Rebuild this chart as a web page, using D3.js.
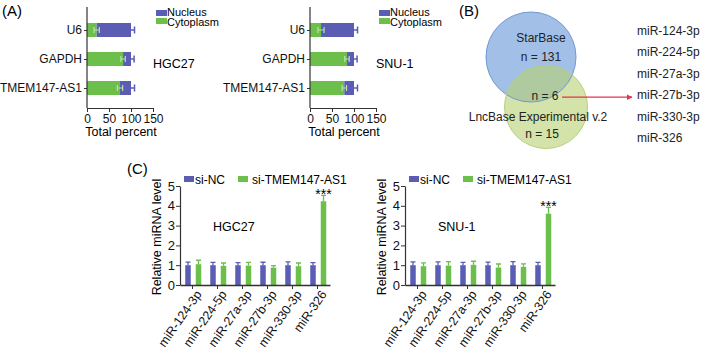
<!DOCTYPE html>
<html lang="en">
<head>
    <meta charset="UTF-8">
    <title>TMEM147-AS1 localisation and miRNA levels</title>
    <script src="https://d3js.org/d3.v7.min.js"></script>
    <style>
        body { margin: 0; padding: 0; background: #fff; }
        svg { display: block; font-family: "Liberation Sans", Arial, sans-serif; }
        .axis text { font-family: "Liberation Sans", Arial, sans-serif; fill: #111; }
        .axis path, .axis line { stroke: #333; }
    </style>
</head>
<body>
<script>
    // Panel A : subcellular fractions (percent)
    var genes = ["U6", "GAPDH", "TMEM147-AS1"];
    var hgcCyto = [22, 82, 75];
    var hgcCytoErr = [6, 5, 6];
    var hgcTotalErr = [8, 7, 8];
    var snuCyto = [25, 84, 78];
    var snuCytoErr = [7, 5, 5];
    var snuTotalErr = [8, 7, 8];
    var pctTicks = [0, 50, 100, 150];

    // Panel B : Venn + miRNA list
    var mirList = ["miR-124-3p", "miR-224-5p", "miR-27a-3p", "miR-27b-3p", "miR-330-3p", "miR-326"];

    // Panel C : relative miRNA level
    var mirs = ["miR-124-3p", "miR-224-5p", "miR-27a-3p", "miR-27b-3p", "miR-330-3p", "miR-326"];
    var hgcNC = [1, 1, 1, 1, 1, 1];
    var hgcNCErr = [0.16, 0.14, 0.13, 0.15, 0.17, 0.13];
    var hgcSi = [1.05, 0.97, 0.98, 0.88, 0.95, 4.23];
    var hgcSiErr = [0.2, 0.14, 0.16, 0.1, 0.16, 0.3];
    var snuNC = [1, 1, 1, 1, 1, 1];
    var snuNCErr = [0.17, 0.17, 0.14, 0.16, 0.18, 0.14];
    var snuSi = [0.95, 0.98, 1.02, 0.88, 0.92, 3.6];
    var snuSiErr = [0.17, 0.2, 0.18, 0.18, 0.15, 0.32];
    var levelTicks = [0, 1, 2, 3, 4, 5];

    var blue = "#5a5db3";
    var green = "#6cbf4a";

    var svg = d3.select("body").append("svg")
        .attr("width", 702)
        .attr("height", 349);

    // ---------- Panel A ----------
    function drawA(x0, cyto, cytoErr, totErr, cellName) {
        var g = svg.append("g");
        var x = d3.scaleLinear().domain([0, 150]).range([x0, x0 + 66]);
        var y = d3.scalePoint().domain(genes).range([30, 88]);
        var bh = 14;

        // bars : green cytoplasm then blue nucleus up to 100
        genes.forEach(function(name, i) {
            g.append("rect")
                .attr("x", x(0)).attr("y", y(name) - bh / 2)
                .attr("width", x(cyto[i]) - x(0)).attr("height", bh)
                .attr("fill", green);
            g.append("rect")
                .attr("x", x(cyto[i])).attr("y", y(name) - bh / 2)
                .attr("width", x(100) - x(cyto[i])).attr("height", bh)
                .attr("fill", blue);
            // error bar on cytoplasm
            var e1 = x(cyto[i] - cytoErr[i]), e2 = x(cyto[i] + cytoErr[i]);
            g.append("path")
                .attr("d", "M" + e1 + "," + y(name) + "H" + e2 +
                    "M" + e1 + "," + (y(name) - 3) + "V" + (y(name) + 3) +
                    "M" + e2 + "," + (y(name) - 3) + "V" + (y(name) + 3))
                .attr("stroke", "#b9e0a6").attr("stroke-width", 1.2).attr("fill", "none");
            // error bar on total
            var t2 = x(100 + totErr[i]);
            g.append("path")
                .attr("d", "M" + x(100) + "," + y(name) + "H" + t2 +
                    "M" + t2 + "," + (y(name) - 3.5) + "V" + (y(name) + 3.5))
                .attr("stroke", blue).attr("stroke-width", 1.5).attr("fill", "none");
        });

        // axes
        g.append("line")
            .attr("x1", x0).attr("x2", x0).attr("y1", 7).attr("y2", 108)
            .attr("stroke", "#333").attr("stroke-width", 1.2);
        var ya = g.append("g").attr("class", "axis")
            .attr("transform", "translate(" + x0 + ",0)")
            .call(d3.axisLeft(y).tickSize(3).tickPadding(2));
        ya.select(".domain").remove();
        ya.selectAll("text").style("font-size", "12px");

        var xa = g.append("g").attr("class", "axis")
            .attr("transform", "translate(0,108)")
            .call(d3.axisBottom(x).tickValues(pctTicks).tickFormat(d3.format("d"))
                .tickSize(4).tickSizeOuter(0).tickPadding(2));
        xa.selectAll("text").style("font-size", "12px");
        xa.select(".domain").attr("stroke-width", 1.2);

        g.append("text")
            .attr("x", x0 + 34).attr("y", 136)
            .attr("text-anchor", "middle")
            .style("font-size", "12.5px")
            .text("Total percent");

        // legend
        var lx = x0 + 69;
        g.append("rect").attr("x", lx).attr("y", 10).attr("width", 11).attr("height", 6).attr("fill", blue);
        g.append("rect").attr("x", lx).attr("y", 18).attr("width", 11).attr("height", 6).attr("fill", green);
        g.append("text").attr("x", lx + 11).attr("y", 15.5).style("font-size", "11px").text("Nucleus");
        g.append("text").attr("x", lx + 11).attr("y", 25.5).style("font-size", "11px").text("Cytoplasm");

        g.append("text")
            .attr("x", x0 + 66).attr("y", 68)
            .style("font-size", "12.5px")
            .text(cellName);
    }

    svg.append("text").attr("x", 2).attr("y", 16).style("font-size", "15px").text("(A)");
    drawA(87, hgcCyto, hgcCytoErr, hgcTotalErr, "HGC27");
    drawA(310, snuCyto, snuCytoErr, snuTotalErr, "SNU-1");

    // ---------- Panel B ----------
    svg.append("text").attr("x", 459).attr("y", 16).style("font-size", "15px").text("(B)");

    var venn = svg.append("g");
    venn.append("circle")
        .attr("cx", 531).attr("cy", 57).attr("r", 45)
        .attr("fill", "#a2c0e7");
    venn.append("circle")
        .attr("cx", 546).attr("cy", 107).attr("r", 41.5)
        .attr("fill", "rgb(184,208,112)").attr("fill-opacity", 0.6);
    venn.append("circle")
        .attr("cx", 531).attr("cy", 57).attr("r", 45)
        .attr("fill", "none").attr("stroke", "#7399cf").attr("stroke-width", 1);
    venn.append("circle")
        .attr("cx", 546).attr("cy", 107).attr("r", 41.5)
        .attr("fill", "none").attr("stroke", "#b7cf7c").attr("stroke-width", 1);

    var vennText = [
        { t: "StarBase", x: 541, y: 42 },
        { t: "n = 131", x: 541, y: 61 },
        { t: "n = 6", x: 545, y: 100 },
        { t: "LncBase Experimental v.2", x: 538, y: 121 },
        { t: "n = 15", x: 542, y: 138 }
    ];
    venn.selectAll("text.vt")
        .data(vennText)
        .join("text")
        .attr("class", "vt")
        .attr("x", function(d) { return d.x; })
        .attr("y", function(d) { return d.y; })
        .attr("text-anchor", "middle")
        .style("font-size", "12px")
        .attr("fill", "#222")
        .text(function(d) { return d.t; });

    var listY = d3.scalePoint().domain(mirList).range([35, 142]);
    svg.selectAll("text.mir")
        .data(mirList)
        .join("text")
        .attr("class", "mir")
        .attr("x", 637)
        .attr("y", function(d) { return listY(d); })
        .style("font-size", "12px")
        .attr("fill", "#222")
        .text(function(d) { return d; });

    svg.append("defs").append("marker")
        .attr("id", "arr").attr("viewBox", "0 0 10 10")
        .attr("refX", 9).attr("refY", 5)
        .attr("markerWidth", 6).attr("markerHeight", 6)
        .attr("markerUnits", "userSpaceOnUse")
        .attr("orient", "auto")
        .append("path").attr("d", "M0,0L10,5L0,10Z").attr("fill", "#e5334f");
    svg.append("line")
        .attr("x1", 562).attr("x2", 632).attr("y1", listY("miR-27b-3p") - 2).attr("y2", listY("miR-27b-3p") - 2)
        .attr("stroke", "#e5334f").attr("stroke-width", 1.3)
        .attr("marker-end", "url(#arr)");

    // ---------- Panel C ----------
    function drawC(x0, nc, ncErr, si, siErr, cellName) {
        var g = svg.append("g");
        var y = d3.scaleLinear().domain([0, 5]).range([285, 186]);
        var x = d3.scaleBand().domain(mirs).range([x0, x0 + 150]);
        var bw = 5.5;

        function bars(vals, errs, off, col) {
            g.selectAll(null)
                .data(mirs)
                .join("rect")
                .attr("x", function(d) { return x(d) + off - bw / 2; })
                .attr("y", function(d, i) { return y(vals[i]); })
                .attr("width", bw)
                .attr("height", function(d, i) { return y(0) - y(vals[i]); })
                .attr("fill", col);
            g.selectAll(null)
                .data(mirs)
                .join("path")
                .attr("d", function(d, i) {
                    var cx = x(d) + off, top = y(vals[i] + errs[i]);
                    return "M" + cx + "," + y(vals[i]) + "V" + top +
                        "M" + (cx - 2.5) + "," + top + "H" + (cx + 2.5);
                })
                .attr("stroke", col).attr("stroke-width", 1.3).attr("fill", "none");
        }
        bars(nc, ncErr, 8, blue);
        bars(si, siErr, 18.5, green);

        var ya = g.append("g").attr("class", "axis")
            .attr("transform", "translate(" + x0 + ",0)")
            .call(d3.axisLeft(y).tickValues(levelTicks).tickFormat(d3.format("d"))
                .tickSize(4).tickSizeOuter(0).tickPadding(1));
        ya.selectAll("text").style("font-size", "13px");
        ya.select(".domain").attr("stroke-width", 1.2);

        var xa = g.append("g").attr("class", "axis")
            .attr("transform", "translate(0,285)")
            .call(d3.axisBottom(x).tickSize(4).tickSizeOuter(0).tickPadding(2));
        xa.select(".domain").attr("stroke-width", 1.5);
        xa.selectAll("text")
            .style("font-size", "12.5px")
            .attr("text-anchor", "end")
            .attr("transform", "translate(2,4) rotate(-55)")
            .attr("dx", "0em").attr("dy", "0.75em")
            .attr("x", 0).attr("y", 0);

        g.append("text")
            .attr("transform", "translate(" + (x0 - 19) + ",237) rotate(-90)")
            .attr("text-anchor", "middle")
            .style("font-size", "12.5px")
            .text("Relative miRNA level");

        // legend
        g.append("rect").attr("x", x0 + 4).attr("y", 176).attr("width", 10).attr("height", 6).attr("fill", blue);
        g.append("text").attr("x", x0 + 15).attr("y", 183.5).style("font-size", "12px").text("si-NC");
        g.append("rect").attr("x", x0 + 58).attr("y", 176).attr("width", 10).attr("height", 6).attr("fill", green);
        g.append("text").attr("x", x0 + 72).attr("y", 183.5).style("font-size", "12px").text("si-TMEM147-AS1");

        g.append("text")
            .attr("x", x0 + 33).attr("y", 231)
            .style("font-size", "12.5px")
            .text(cellName);

        var last = mirs.length - 1;
        g.append("text")
            .attr("x", x(mirs[last]) + 18.5)
            .attr("y", y(si[last] + siErr[last]) + 4)
            .attr("text-anchor", "middle")
            .style("font-size", "14px")
            .text("***");
    }

    svg.append("text").attr("x", 127).attr("y", 174).style("font-size", "15px").text("(C)");
    drawC(180, hgcNC, hgcNCErr, hgcSi, hgcSiErr, "HGC27");
    drawC(405, snuNC, snuNCErr, snuSi, snuSiErr, "SNU-1");
</script>
</body>
</html>
